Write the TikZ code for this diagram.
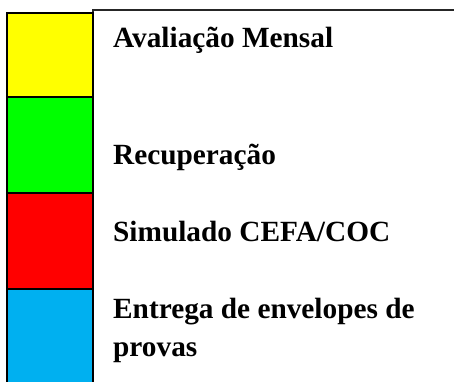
\documentclass[tikz,border=0pt]{standalone}
\usepackage{fontspec}
\setmainfont{Liberation Serif}

\definecolor{mensal}{HTML}{FFFF00}
\definecolor{recup}{HTML}{00FF00}
\definecolor{simul}{HTML}{FF0000}
\definecolor{envel}{HTML}{00B0F0}

\begin{document}
\begin{tikzpicture}[x=1pt, y=-1pt,
    cell/.style={draw=black, line width=1.4pt},
    lbl/.style={anchor=base west, inner sep=0pt, align=left,
      font=\bfseries\fontsize{29.3}{38.7}\selectfont}]

    \useasboundingbox (0,0) rectangle (454,381);

    % quadro das legendas
    \draw[line width=1.4pt, black!85] (93,384) -- (93,10) -- (456,10);

    % coluna de cores
    \filldraw[cell, fill=mensal] (7,13) rectangle (93,97);
    \filldraw[cell, fill=recup] (7,97) rectangle (93,193);
    \filldraw[cell, fill=simul] (7,193) rectangle (93,289);
    \filldraw[cell, fill=envel] (7,289) rectangle (93,386);

    % textos (base = ultima linha)
    \node[lbl] (mensal) at (113,47.3) {Avaliação Mensal};
    \node[lbl] (recup) at (113,164.3) {Recuperação};
    \node[lbl] (simul) at (113,241.7) {Simulado CEFA/COC};
    \node[lbl] (envel) at (113,356.7) {Entrega de envelopes de\\provas};

\end{tikzpicture}
\end{document}
